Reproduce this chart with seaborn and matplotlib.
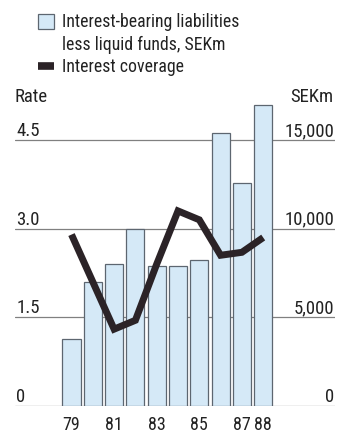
import numpy as np
import pandas as pd
import matplotlib
matplotlib.use("Agg")
import matplotlib.pyplot as plt
from matplotlib import font_manager
from matplotlib.patches import Patch
from matplotlib.lines import Line2D
import seaborn as sns

# Data
years = ["79", "80", "81", "82", "83", "84", "85", "86", "87", "88"]
liabilities_sekm = [3800, 7000, 8000, 10000, 7900, 7900, 8250, 15400, 12600, 17000]
interest_coverage = [2.9, 2.1, 1.3, 1.45, 2.4, 3.3, 3.15, 2.55, 2.6, 2.85]
shown_year_labels = ["79", "81", "83", "85", "87", "88"]
rate_ticks = [0, 1.5, 3.0, 4.5]
rate_tick_labels = ["0", "1.5", "3.0", "4.5"]
sekm_ticks = [0, 5000, 10000, 15000]
sekm_tick_labels = ["0", "5,000", "10,000", "15,000"]

sns.set_theme(style="white")

# Prefer a narrow sans family when one is installed
installed = {f.name for f in font_manager.fontManager.ttflist}
condensed_faces = {(f.name, f.stretch) for f in font_manager.fontManager.ttflist}
preferred = ["Liberation Sans Narrow", "Roboto Condensed", "Open Sans Condensed",
             "Arial Narrow", "Nimbus Sans Narrow", "DejaVu Sans Condensed"]
family = next((p for p in preferred if p in installed), None)
stretch = "normal"
if family is None:
    narrow_dejavu = [n for (n, s) in condensed_faces
                     if n == "DejaVu Sans" and s in ("condensed", 300, "semi-condensed")]
    if narrow_dejavu:
        family, stretch = "DejaVu Sans", "condensed"
    else:
        family = "Roboto"
plt.rcParams["font.family"] = [family, "DejaVu Sans"]
plt.rcParams["font.stretch"] = stretch

bar_fill = "#d5e9f7"
bar_edge = "#5d6670"
line_color = "#2b2327"
grid_color = "#808080"
text_color = "#222222"
fs_legend = 12.8
fs_axis = 13.5
fs_years = 13

W, H = 337, 434
fig = plt.figure(figsize=(W / 100, H / 100), dpi=100)
fig.patch.set_facecolor("white")

# axes: x from 15px to 335px, y from 406px (zero) up to 95px
left, right, bottom, top = 15, 335, 406, 95
ax = fig.add_axes([left / W, 1 - bottom / H, (right - left) / W, (bottom - top) / H])

df = pd.DataFrame({"year": years, "sekm": liabilities_sekm,
                   "rate": interest_coverage, "pos": np.arange(len(years))})

sns.barplot(data=df, x="year", y="sekm", ax=ax, color=bar_fill, width=0.85,
            edgecolor=bar_edge, linewidth=0.9, saturation=1, zorder=2)

px_per_unit = 21.3
x0 = 71.5
ax.set_xlim((left - x0) / px_per_unit, (right - x0) / px_per_unit)
rate_top = (bottom - top) / ((bottom - 140) / 4.5)
ax.set_ylim(0, rate_top * 10000 / 3)

# Interest coverage rate on a twin scale
ax2 = ax.twinx()
sns.lineplot(data=df, x="pos", y="rate", ax=ax2, color=line_color,
             linewidth=5.0, solid_joinstyle="miter", solid_capstyle="butt")
ax2.set_ylim(0, rate_top)

# SEKm scale on the right, gridlines behind the bars
ax.set_axisbelow(True)
ax.yaxis.tick_right()
ax.set_yticks(sekm_ticks)
ax.set_yticklabels(sekm_tick_labels)
ax.grid(axis="y", color=grid_color, linewidth=0.9)
ax.grid(axis="x", visible=False)
ax.tick_params(axis="y", which="both", left=False, right=True, labelleft=False,
               labelright=True, length=0, pad=-0.5, labelsize=fs_axis, labelcolor=text_color)
for lbl in ax.get_yticklabels():
    lbl.set_horizontalalignment("right")
    lbl.set_verticalalignment("bottom")

ax.set_xticks([years.index(y) for y in shown_year_labels])
ax.set_xticklabels(shown_year_labels)
ax.tick_params(axis="x", length=0, pad=7, labelsize=fs_years, labelcolor=text_color)
ax.set_xlabel("")
ax.set_ylabel("")
for s in ax.spines.values():
    s.set_visible(False)

# Rate scale on the left
ax2.yaxis.tick_left()
ax2.set_yticks(rate_ticks)
ax2.set_yticklabels(rate_tick_labels)
ax2.tick_params(axis="y", which="both", left=True, right=False, labelleft=True,
                labelright=False, length=0, pad=-1, labelsize=fs_axis, labelcolor=text_color)
for lbl in ax2.get_yticklabels():
    lbl.set_horizontalalignment("left")
    lbl.set_verticalalignment("bottom")
ax2.set_xlabel("")
ax2.set_ylabel("")
ax2.grid(False)
for s in ax2.spines.values():
    s.set_visible(False)

fig.text(14 / W, 1 - 97 / H, "Rate", ha="left", va="center", fontsize=fs_axis, color=text_color)
fig.text(333 / W, 1 - 97 / H, "SEKm", ha="right", va="center", fontsize=fs_axis, color=text_color)

# Legend: the second label line gets an empty handle so the swatch sits by the first line
handles = [
    Patch(facecolor=bar_fill, edgecolor=bar_edge, linewidth=0.9),
    Patch(facecolor="none", edgecolor="none"),
    Line2D([0], [0], color=line_color, linewidth=5.5, solid_capstyle="butt"),
]
labels = ["Interest-bearing liabilities", "less liquid funds, SEKm", "Interest coverage"]
fig.legend(handles, labels, loc="upper left", bbox_to_anchor=(26 / W, 1 - 1 / H),
           frameon=False, fontsize=fs_legend, handlelength=0.9, handleheight=0.9,
           handletextpad=0.45, labelspacing=0.25, borderpad=0.2,
           labelcolor=text_color)

fig.savefig("out.png", dpi=100, facecolor="white")
